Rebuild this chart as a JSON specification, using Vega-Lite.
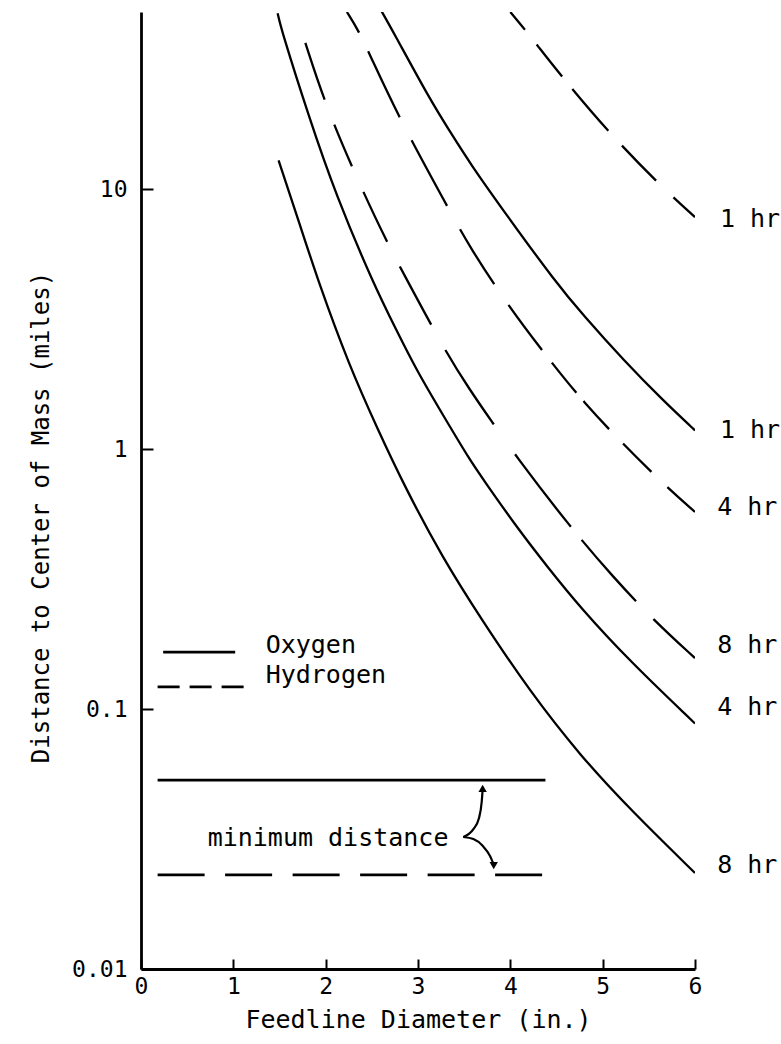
{
  "$schema": "https://vega.github.io/schema/vega-lite/v6.json",
  "autosize": "none",
  "padding": {"left": 141, "top": 12, "right": 86, "bottom": 75},
  "width": 554,
  "height": 957,
  "background": "white",
  "config": {
    "view": {"stroke": null},
    "font": "DejaVu Sans Mono",
    "text": {"font": "DejaVu Sans Mono", "fontSize": 25, "color": "black"}
  },
  "datasets": {
    "curves": [
      {"curve": "O1", "fluid": "Oxygen", "d": 2.60, "dist": 48.7},
      {"curve": "O1", "fluid": "Oxygen", "d": 2.72, "dist": 41},
      {"curve": "O1", "fluid": "Oxygen", "d": 3.13, "dist": 22.1},
      {"curve": "O1", "fluid": "Oxygen", "d": 3.34, "dist": 16.8},
      {"curve": "O1", "fluid": "Oxygen", "d": 3.56, "dist": 12.6},
      {"curve": "O1", "fluid": "Oxygen", "d": 3.96, "dist": 7.94},
      {"curve": "O1", "fluid": "Oxygen", "d": 4.49, "dist": 4.39},
      {"curve": "O1", "fluid": "Oxygen", "d": 4.79, "dist": 3.27},
      {"curve": "O1", "fluid": "Oxygen", "d": 5.23, "dist": 2.19},
      {"curve": "O1", "fluid": "Oxygen", "d": 5.66, "dist": 1.53},
      {"curve": "O1", "fluid": "Oxygen", "d": 6.0, "dist": 1.18},
      {"curve": "O4", "fluid": "Oxygen", "d": 1.48, "dist": 47.5},
      {"curve": "O4", "fluid": "Oxygen", "d": 1.52, "dist": 41},
      {"curve": "O4", "fluid": "Oxygen", "d": 1.82, "dist": 18.9},
      {"curve": "O4", "fluid": "Oxygen", "d": 2.11, "dist": 9.5},
      {"curve": "O4", "fluid": "Oxygen", "d": 2.52, "dist": 4.3},
      {"curve": "O4", "fluid": "Oxygen", "d": 2.77, "dist": 2.85},
      {"curve": "O4", "fluid": "Oxygen", "d": 2.98, "dist": 2.02},
      {"curve": "O4", "fluid": "Oxygen", "d": 3.31, "dist": 1.28},
      {"curve": "O4", "fluid": "Oxygen", "d": 3.56, "dist": 0.91},
      {"curve": "O4", "fluid": "Oxygen", "d": 3.70, "dist": 0.77},
      {"curve": "O4", "fluid": "Oxygen", "d": 4.07, "dist": 0.50},
      {"curve": "O4", "fluid": "Oxygen", "d": 4.40, "dist": 0.353},
      {"curve": "O4", "fluid": "Oxygen", "d": 4.76, "dist": 0.245},
      {"curve": "O4", "fluid": "Oxygen", "d": 5.30, "dist": 0.152},
      {"curve": "O4", "fluid": "Oxygen", "d": 6.0, "dist": 0.088},
      {"curve": "O8", "fluid": "Oxygen", "d": 1.49, "dist": 12.9},
      {"curve": "O8", "fluid": "Oxygen", "d": 1.71, "dist": 7.5},
      {"curve": "O8", "fluid": "Oxygen", "d": 1.93, "dist": 4.3},
      {"curve": "O8", "fluid": "Oxygen", "d": 2.25, "dist": 2.12},
      {"curve": "O8", "fluid": "Oxygen", "d": 2.55, "dist": 1.22},
      {"curve": "O8", "fluid": "Oxygen", "d": 2.87, "dist": 0.70},
      {"curve": "O8", "fluid": "Oxygen", "d": 3.27, "dist": 0.38},
      {"curve": "O8", "fluid": "Oxygen", "d": 3.67, "dist": 0.226},
      {"curve": "O8", "fluid": "Oxygen", "d": 4.21, "dist": 0.117},
      {"curve": "O8", "fluid": "Oxygen", "d": 4.76, "dist": 0.066},
      {"curve": "O8", "fluid": "Oxygen", "d": 5.30, "dist": 0.041},
      {"curve": "O8", "fluid": "Oxygen", "d": 6.0, "dist": 0.0234},
      {"curve": "H1", "fluid": "Hydrogen", "d": 4.0, "dist": 48},
      {"curve": "H1", "fluid": "Hydrogen", "d": 4.16, "dist": 41},
      {"curve": "H1", "fluid": "Hydrogen", "d": 4.29, "dist": 35.8},
      {"curve": "H1", "fluid": "Hydrogen", "d": 4.56, "dist": 27.0},
      {"curve": "H1", "fluid": "Hydrogen", "d": 5.06, "dist": 16.6},
      {"curve": "H1", "fluid": "Hydrogen", "d": 5.59, "dist": 10.6},
      {"curve": "H1", "fluid": "Hydrogen", "d": 6.0, "dist": 7.8},
      {"curve": "H4", "fluid": "Hydrogen", "d": 2.23, "dist": 48.0},
      {"curve": "H4", "fluid": "Hydrogen", "d": 2.35, "dist": 41},
      {"curve": "H4", "fluid": "Hydrogen", "d": 2.46, "dist": 34},
      {"curve": "H4", "fluid": "Hydrogen", "d": 2.79, "dist": 18.9},
      {"curve": "H4", "fluid": "Hydrogen", "d": 3.31, "dist": 8.67},
      {"curve": "H4", "fluid": "Hydrogen", "d": 3.56, "dist": 5.98},
      {"curve": "H4", "fluid": "Hydrogen", "d": 3.97, "dist": 3.58},
      {"curve": "H4", "fluid": "Hydrogen", "d": 4.45, "dist": 2.14},
      {"curve": "H4", "fluid": "Hydrogen", "d": 4.79, "dist": 1.52},
      {"curve": "H4", "fluid": "Hydrogen", "d": 5.22, "dist": 1.045},
      {"curve": "H4", "fluid": "Hydrogen", "d": 5.70, "dist": 0.71},
      {"curve": "H4", "fluid": "Hydrogen", "d": 6.0, "dist": 0.573},
      {"curve": "H8", "fluid": "Hydrogen", "d": 1.78, "dist": 36.5},
      {"curve": "H8", "fluid": "Hydrogen", "d": 1.98, "dist": 22.0},
      {"curve": "H8", "fluid": "Hydrogen", "d": 2.28, "dist": 12.2},
      {"curve": "H8", "fluid": "Hydrogen", "d": 2.66, "dist": 6.25},
      {"curve": "H8", "fluid": "Hydrogen", "d": 2.94, "dist": 4.09},
      {"curve": "H8", "fluid": "Hydrogen", "d": 3.29, "dist": 2.40},
      {"curve": "H8", "fluid": "Hydrogen", "d": 3.56, "dist": 1.69},
      {"curve": "H8", "fluid": "Hydrogen", "d": 3.81, "dist": 1.26},
      {"curve": "H8", "fluid": "Hydrogen", "d": 4.05, "dist": 0.95},
      {"curve": "H8", "fluid": "Hydrogen", "d": 4.65, "dist": 0.50},
      {"curve": "H8", "fluid": "Hydrogen", "d": 5.12, "dist": 0.32},
      {"curve": "H8", "fluid": "Hydrogen", "d": 5.55, "dist": 0.22},
      {"curve": "H8", "fluid": "Hydrogen", "d": 6.0, "dist": 0.157}
    ],
    "minlines": [
      {"fluid": "Oxygen", "d": 0.18, "dist": 0.0533},
      {"fluid": "Oxygen", "d": 4.38, "dist": 0.0533},
      {"fluid": "Hydrogen", "d": 0.18, "dist": 0.0230},
      {"fluid": "Hydrogen", "d": 4.35, "dist": 0.0230}
    ],
    "legendlines": [
      {"fluid": "Oxygen", "d": 0.24, "dist": 0.1655},
      {"fluid": "Oxygen", "d": 1.02, "dist": 0.1655},
      {"fluid": "Hydrogen", "d": 0.18, "dist": 0.1216},
      {"fluid": "Hydrogen", "d": 1.12, "dist": 0.1216}
    ],
    "legendtext": [
      {"label": "Oxygen", "d": 1.35, "dist": 0.176},
      {"label": "Hydrogen", "d": 1.35, "dist": 0.135}
    ],
    "curvelabels": [
      {"label": "1 hr", "d": 6.27, "dist": 7.7},
      {"label": "1 hr", "d": 6.27, "dist": 1.18},
      {"label": "4 hr", "d": 6.24, "dist": 0.60},
      {"label": "8 hr", "d": 6.24, "dist": 0.176},
      {"label": "4 hr", "d": 6.24, "dist": 0.102},
      {"label": "8 hr", "d": 6.24, "dist": 0.0251}
    ],
    "note": [
      {"label": "minimum distance", "d": 3.33, "dist": 0.0319}
    ],
    "brace": [
      {"arm": "up", "k": 0, "d": 3.49, "dist": 0.0322},
      {"arm": "up", "k": 1, "d": 3.60, "dist": 0.0345},
      {"arm": "up", "k": 2, "d": 3.66, "dist": 0.038},
      {"arm": "up", "k": 3, "d": 3.69, "dist": 0.044},
      {"arm": "up", "k": 4, "d": 3.70, "dist": 0.049},
      {"arm": "down", "k": 0, "d": 3.49, "dist": 0.0322},
      {"arm": "down", "k": 1, "d": 3.60, "dist": 0.0316},
      {"arm": "down", "k": 2, "d": 3.70, "dist": 0.0298},
      {"arm": "down", "k": 3, "d": 3.78, "dist": 0.0272},
      {"arm": "down", "k": 4, "d": 3.82, "dist": 0.0252}
    ],
    "heads": [
      {"dir": "up", "d": 3.70, "dist": 0.0495},
      {"dir": "down", "d": 3.82, "dist": 0.0250}
    ]
  },
  "layer": [
    {
      "data": {"name": "curves"},
      "transform": [{"filter": "datum.fluid === 'Oxygen'"}],
      "mark": {"type": "line", "color": "black", "strokeWidth": 2.3, "interpolate": "basis", "clip": true},
      "encoding": {
        "x": {"field": "d", "type": "quantitative", "scale": {"domain": [0, 6], "nice": false},
              "axis": {"values": [0, 1, 2, 3, 4, 5, 6], "format": "d", "title": "Feedline Diameter (in.)",
                       "grid": false, "domainColor": "black", "domainWidth": 2.8, "tickColor": "black", "tickWidth": 2,
                       "tickSize": -10, "labelPadding": 16, "labelFont": "DejaVu Sans Mono", "labelFontSize": 23,
                       "labelColor": "black", "labelFlush": false, "labelOverlap": false,
                       "titleFont": "DejaVu Sans Mono", "titleFontSize": 25, "titleFontWeight": "normal", "titleColor": "black",
                       "titleY": 50, "titleBaseline": "middle"}},
        "y": {"field": "dist", "type": "quantitative", "scale": {"type": "log", "domain": [0.01, 48], "nice": false},
              "axis": {"values": [0.01, 0.1, 1, 10], "format": "~g", "title": "Distance to Center of Mass (miles)",
                       "grid": false, "domainColor": "black", "domainWidth": 2.8, "tickColor": "black", "tickWidth": 2,
                       "tickSize": -12, "labelPadding": 26, "labelFont": "DejaVu Sans Mono", "labelFontSize": 23,
                       "labelColor": "black", "labelFlush": false, "labelOverlap": false,
                       "titleFont": "DejaVu Sans Mono", "titleFontSize": 24, "titleFontWeight": "normal", "titleColor": "black",
                       "titleX": -100, "titleY": 505, "titleAngle": -90, "titleAlign": "center", "titleBaseline": "middle"}},
        "detail": {"field": "curve"}
      }
    },
    {
      "data": {"name": "curves"},
      "transform": [{"filter": "datum.curve === 'H1'"}],
      "mark": {"type": "line", "color": "black", "strokeWidth": 2.3, "interpolate": "basis", "strokeDash": [23, 19, 41, 16, 55, 20, 49, 24, 40, 20], "clip": true},
      "encoding": {
        "x": {"field": "d", "type": "quantitative"},
        "y": {"field": "dist", "type": "quantitative"}
      }
    },
    {
      "data": {"name": "curves"},
      "transform": [{"filter": "datum.curve === 'H4'"}],
      "mark": {"type": "line", "color": "black", "strokeWidth": 2.3, "interpolate": "basis", "strokeDash": [24, 21, 73, 26, 74, 27, 65, 25, 56, 16, 39, 11, 38, 20, 40, 22, 40, 20], "clip": true},
      "encoding": {
        "x": {"field": "d", "type": "quantitative"},
        "y": {"field": "dist", "type": "quantitative"}
      }
    },
    {
      "data": {"name": "curves"},
      "transform": [{"filter": "datum.curve === 'H8'"}],
      "mark": {"type": "line", "color": "black", "strokeWidth": 2.3, "interpolate": "basis", "strokeDash": [60, 27, 45, 28, 55, 28, 66, 29, 89, 37, 91, 17, 82, 25, 60, 20], "clip": true},
      "encoding": {
        "x": {"field": "d", "type": "quantitative"},
        "y": {"field": "dist", "type": "quantitative"}
      }
    },
    {
      "data": {"name": "minlines"},
      "transform": [{"filter": "datum.fluid === 'Oxygen'"}],
      "mark": {"type": "line", "color": "black", "strokeWidth": 2.8},
      "encoding": {"x": {"field": "d", "type": "quantitative"}, "y": {"field": "dist", "type": "quantitative"}}
    },
    {
      "data": {"name": "minlines"},
      "transform": [{"filter": "datum.fluid === 'Hydrogen'"}],
      "mark": {"type": "line", "color": "black", "strokeWidth": 2.8, "strokeDash": [47, 20.5]},
      "encoding": {"x": {"field": "d", "type": "quantitative"}, "y": {"field": "dist", "type": "quantitative"}}
    },
    {
      "data": {"name": "legendlines"},
      "transform": [{"filter": "datum.fluid === 'Oxygen'"}],
      "mark": {"type": "line", "color": "black", "strokeWidth": 2.8},
      "encoding": {"x": {"field": "d", "type": "quantitative"}, "y": {"field": "dist", "type": "quantitative"}}
    },
    {
      "data": {"name": "legendlines"},
      "transform": [{"filter": "datum.fluid === 'Hydrogen'"}],
      "mark": {"type": "line", "color": "black", "strokeWidth": 2.8, "strokeDash": [22, 10]},
      "encoding": {"x": {"field": "d", "type": "quantitative"}, "y": {"field": "dist", "type": "quantitative"}}
    },
    {
      "data": {"name": "legendtext"},
      "mark": {"type": "text", "align": "left", "baseline": "middle"},
      "encoding": {"x": {"field": "d", "type": "quantitative"}, "y": {"field": "dist", "type": "quantitative"}, "text": {"field": "label"}}
    },
    {
      "data": {"name": "curvelabels"},
      "mark": {"type": "text", "align": "left", "baseline": "middle"},
      "encoding": {"x": {"field": "d", "type": "quantitative"}, "y": {"field": "dist", "type": "quantitative"}, "text": {"field": "label"}}
    },
    {
      "data": {"name": "note"},
      "mark": {"type": "text", "align": "right", "baseline": "middle"},
      "encoding": {"x": {"field": "d", "type": "quantitative"}, "y": {"field": "dist", "type": "quantitative"}, "text": {"field": "label"}}
    },
    {
      "data": {"name": "brace"},
      "mark": {"type": "line", "color": "black", "strokeWidth": 2.2, "interpolate": "monotone"},
      "encoding": {"x": {"field": "d", "type": "quantitative"}, "y": {"field": "dist", "type": "quantitative"}, "detail": {"field": "arm"}, "order": {"field": "k"}}
    },
    {
      "data": {"name": "heads"},
      "mark": {"type": "point", "filled": true, "color": "black", "size": 70, "opacity": 1},
      "encoding": {
        "x": {"field": "d", "type": "quantitative"},
        "y": {"field": "dist", "type": "quantitative"},
        "shape": {"field": "dir", "type": "nominal", "scale": {"domain": ["up", "down"], "range": ["triangle-up", "triangle-down"]}, "legend": null}
      }
    }
  ]
}
